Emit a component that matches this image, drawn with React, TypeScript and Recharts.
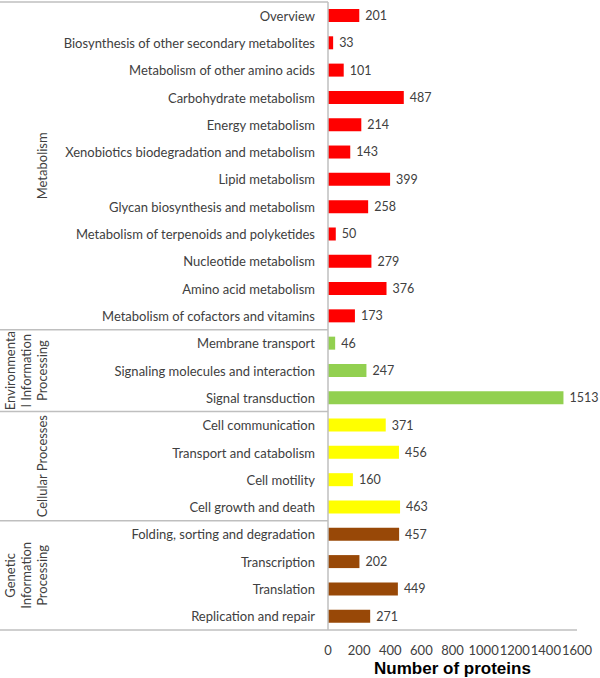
import React from "react";
import {
  BarChart,
  Bar,
  XAxis,
  YAxis,
  Cell,
  LabelList,
} from "recharts";

const categories = [
  "Overview",
  "Biosynthesis of other secondary metabolites",
  "Metabolism of other amino acids",
  "Carbohydrate metabolism",
  "Energy metabolism",
  "Xenobiotics biodegradation and metabolism",
  "Lipid metabolism",
  "Glycan biosynthesis and metabolism",
  "Metabolism of terpenoids and polyketides",
  "Nucleotide metabolism",
  "Amino acid metabolism",
  "Metabolism of cofactors and vitamins",
  "Membrane transport",
  "Signaling molecules and interaction",
  "Signal transduction",
  "Cell communication",
  "Transport and catabolism",
  "Cell motility",
  "Cell growth and death",
  "Folding, sorting and degradation",
  "Transcription",
  "Translation",
  "Replication and repair",
];

const proteinCounts = [
  201, 33, 101, 487, 214, 143, 399, 258, 50, 279, 376, 173, 46, 247, 1513, 371,
  456, 160, 463, 457, 202, 449, 271,
];

// group index for each category
const groupOf = [
  0, 0, 0, 0, 0, 0, 0, 0, 0, 0, 0, 0, 1, 1, 1, 2, 2, 2, 2, 3, 3, 3, 3,
];

const groupLabels = [
  ["Metabolism"],
  ["Environmenta", "l Information", "Processing"],
  ["Cellular Processes"],
  ["Genetic", "Information", "Processing"],
];

const groupColors = ["#FF0000", "#92D050", "#FFFF00", "#984807"];

const xTicks = [0, 200, 400, 600, 800, 1000, 1200, 1400, 1600];

const data = categories.map((name, i) => ({
  name,
  value: proteinCounts[i],
  group: groupOf[i],
}));

const FONT = "Lato, 'Open Sans', sans-serif";
const TEXT = "#404040";
const GRID = "#BFBFBF";

const WIDTH = 600;
const HEIGHT = 678;
const TOP = 2;
const AXIS_H = 48;
const AXIS_X = 328;
const BAND = (HEIGHT - TOP - AXIS_H) / categories.length;

const CategoryTick = (props: any) => {
  const { x, y, payload, index } = props;
  const g = groupOf[index];
  const first = index === 0 || groupOf[index - 1] !== g;
  const last = index === categories.length - 1;
  const count = groupOf.filter((v) => v === g).length;
  const lines = groupLabels[g];
  const cy = y + ((count - 1) / 2) * BAND;
  const lineGap = 16;
  const colX = 47;
  return (
    <g>
      <text
        x={x}
        y={y}
        textAnchor="end"
        dominantBaseline="central"
        fontFamily={FONT}
        fontSize={13}
        fill={TEXT}
      >
        {payload.value}
      </text>
      {first && (
        <line
          x1={0}
          x2={AXIS_X}
          y1={y - BAND / 2}
          y2={y - BAND / 2}
          stroke={GRID}
          strokeWidth={1.5}
        />
      )}
      {last && (
        <line
          x1={0}
          x2={AXIS_X}
          y1={y + BAND / 2}
          y2={y + BAND / 2}
          stroke={GRID}
          strokeWidth={1.5}
        />
      )}
      {first &&
        lines.map((t, k) => {
          const lx = colX - (lines.length - 1 - k) * lineGap;
          return (
            <text
              key={k}
              x={lx}
              y={cy}
              transform={`rotate(-90, ${lx}, ${cy})`}
              textAnchor="middle"
              fontFamily={FONT}
              fontSize={13}
              fill={TEXT}
            >
              {t}
            </text>
          );
        })}
    </g>
  );
};

const AxisTitle = (props: any) => {
  const { viewBox } = props;
  return (
    <text
      x={viewBox.x + viewBox.width / 2}
      y={HEIGHT - 4}
      textAnchor="middle"
      fontFamily="'Liberation Sans', Arial, sans-serif"
      fontWeight="bold"
      fontSize={17}
      fill="#000"
    >
      Number of proteins
    </text>
  );
};

export default function App() {
  return (
    <div style={{ position: "absolute", left: 0, top: 0, background: "#fff" }}>
      <BarChart
        width={WIDTH}
        height={HEIGHT}
        data={data}
        layout="vertical"
        margin={{ top: TOP, right: 23, bottom: 0, left: 0 }}
      >
        <XAxis
          type="number"
          domain={[0, 1600]}
          ticks={xTicks}
          interval={0}
          height={AXIS_H}
          tickLine={false}
          axisLine={{ stroke: GRID, strokeWidth: 1.5 }}
          tickMargin={10}
          tick={{ fontFamily: FONT, fontSize: 13, fill: TEXT }}
          label={<AxisTitle />}
        />
        <YAxis
          type="category"
          dataKey="name"
          width={AXIS_X}
          interval={0}
          tickLine={false}
          tickMargin={7}
          axisLine={{ stroke: GRID, strokeWidth: 1.5 }}
          tick={<CategoryTick />}
        />
        <Bar dataKey="value" barSize={13} isAnimationActive={false}>
          {data.map((d, i) => (
            <Cell key={`c-${i}`} fill={groupColors[d.group]} />
          ))}
          <LabelList
            dataKey="value"
            position="right"
            offset={6}
            fontFamily={FONT}
            fontSize={12.5}
            fill={TEXT}
          />
        </Bar>
      </BarChart>
    </div>
  );
}
